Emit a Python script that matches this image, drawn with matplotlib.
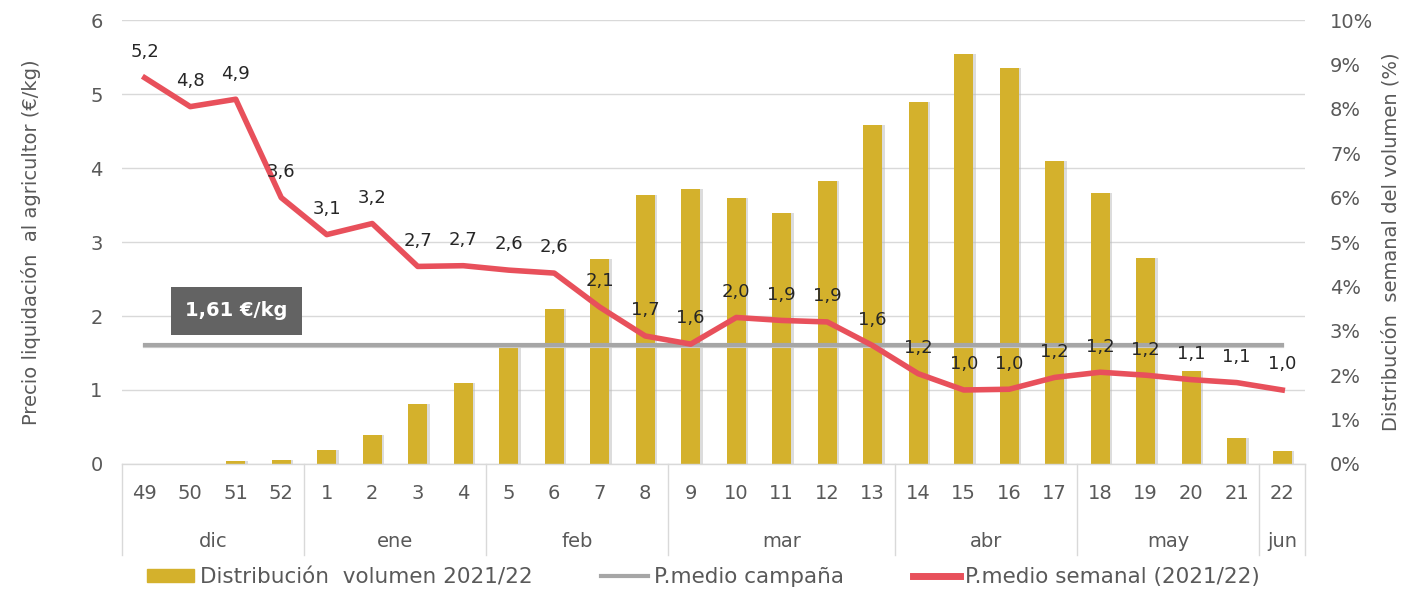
import numpy as np
import matplotlib.pyplot as plt
from matplotlib.ticker import PercentFormatter
from matplotlib.patches import Patch
from matplotlib.lines import Line2D

plt.rcParams['font.family'] = ['DejaVu Sans']

# data
weeks = ["49", "50", "51", "52", "1", "2", "3", "4", "5", "6", "7", "8", "9",
         "10", "11", "12", "13", "14", "15", "16", "17", "18", "19", "20", "21", "22"]
months = ["dic", "ene", "feb", "mar", "abr", "may", "jun"]
weeks_per_month = [4, 4, 4, 5, 4, 4, 1]
volume = [0.0, 0.0, 0.07, 0.09, 0.32, 0.65, 1.35, 1.82, 2.66, 3.5, 4.62, 6.06, 6.19,
          5.99, 5.65, 6.37, 7.63, 8.15, 9.23, 8.92, 6.82, 6.1, 4.64, 2.09, 0.59, 0.29]
price = [5.22, 4.83, 4.93, 3.6, 3.1, 3.25, 2.67, 2.68, 2.62, 2.58, 2.12, 1.73, 1.62,
         1.98, 1.94, 1.92, 1.6, 1.22, 1.0, 1.01, 1.17, 1.24, 1.2, 1.14, 1.1, 1.0]
avg_price = 1.61

bar_color = "#D4B12C"
line_color = "#E8505B"
avg_color = "#A6A6A6"
txt_color = "#595959"

x = np.arange(len(weeks))

fig = plt.figure(figsize=(14.07, 5.9), dpi=100)
ax = fig.add_axes([0.0867, 0.2136, 0.8408, 0.7524])
ax2 = ax.twinx()

# bars on the right axis (behind), lines on the left axis (front)
ax.set_zorder(ax2.get_zorder() + 1)
ax.patch.set_visible(False)

for t in range(0, 7):
    ax2.axhline(t / 6 * 10, color="#D9D9D9", lw=1, zorder=0)
ax2.bar(x + 0.05, volume, width=0.42, color="#BBBBBB", alpha=0.5, zorder=1)
ax2.bar(x, volume, width=0.42, color=bar_color, zorder=2)
ax2.set_ylim(0, 10)
ax2.set_yticks(range(0, 11))
ax2.yaxis.set_major_formatter(PercentFormatter(decimals=0))

ax.plot([x[0], x[-1]], [avg_price - 0.02, avg_price - 0.02], color="#CCCCCC", lw=3, zorder=2)
ax.plot([x[0], x[-1]], [avg_price, avg_price], color=avg_color, lw=3, zorder=3)
ax.plot(x, price, color=line_color, lw=4, zorder=4)
for xi, p in zip(x, price):
    ax.annotate(f"{p:.1f}".replace(".", ","), (xi, p), xytext=(0, 12),
                textcoords="offset points", ha="center", va="bottom",
                fontsize=13, color="#262626", zorder=5)

ax.text(2.02, 2.07, "1,61 €/kg", ha="center", va="center", fontsize=14,
        fontweight="bold", color="white", zorder=6,
        bbox=dict(boxstyle="square,pad=0.75", fc="#636363", ec="none"))

ax.set_ylim(0, 6)
ax.set_xlim(-0.5, len(weeks) - 0.5)
ax.set_yticks(range(0, 7))
ax.set_xticks([])
ax2.set_xticks([])

for a in (ax, ax2):
    for s in a.spines.values():
        s.set_visible(False)
    a.tick_params(axis="y", length=0, labelsize=14, colors=txt_color)
ax.tick_params(axis="y", pad=14)
ax2.tick_params(axis="y", pad=18)

ax.set_ylabel("Precio liquidación  al agricultor (€/kg)", fontsize=14, color=txt_color, labelpad=35)
ax2.set_ylabel("Distribución  semanal del volumen (%)", fontsize=14, color=txt_color, labelpad=6)

# two-level category axis
tr = ax.get_xaxis_transform()
ax.plot([-0.5, len(weeks) - 0.5], [0, 0], transform=tr, color="#D9D9D9", lw=1, clip_on=False)
for xi, w in zip(x, weeks):
    ax.text(xi, -0.066, w, transform=tr, ha="center", va="center", fontsize=14, color=txt_color)
start = 0
bounds = [-0.5]
for m, n in zip(months, weeks_per_month):
    ax.text(start + (n - 1) / 2, -0.175, m, transform=tr, ha="center", va="center",
            fontsize=14, color=txt_color)
    start += n
    bounds.append(start - 0.5)
for b in bounds:
    ax.plot([b, b], [0, -0.205], transform=tr, color="#D9D9D9", lw=1, clip_on=False)

# legend
handles = [Patch(color=bar_color),
           Line2D([], [], color=avg_color, lw=3),
           Line2D([], [], color=line_color, lw=5)]
labels = ["Distribución  volumen 2021/22", "P.medio campaña", "P.medio semanal (2021/22)"]
leg = fig.legend(handles, labels, loc="center", bbox_to_anchor=(0.5, 0.022), ncol=3,
                 frameon=False, fontsize=15.5, columnspacing=3.2, handlelength=2.2,
                 handletextpad=0.25, handleheight=0.55)
for t in leg.get_texts():
    t.set_color(txt_color)

fig.savefig("out.png", dpi=100)
